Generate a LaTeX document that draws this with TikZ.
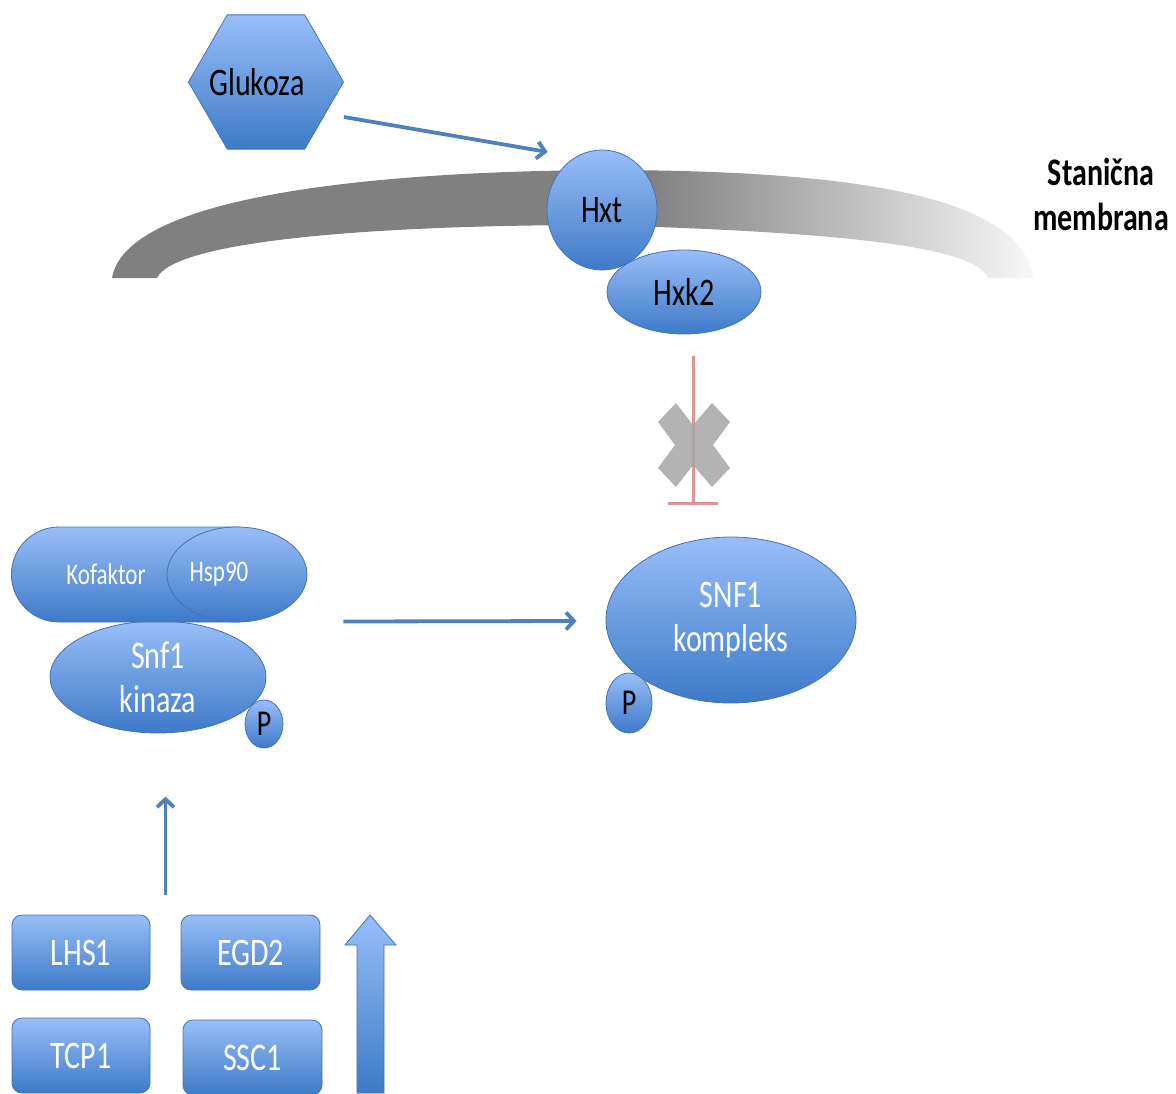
\documentclass[tikz,border=0pt]{standalone}
\usepackage{fontspec}
\usepackage{graphicx}
\setmainfont{Carlito}
\usetikzlibrary{shapes.geometric, shapes.misc, arrows.meta, calc}
\definecolor{protlight}{RGB}{152,190,248}
\definecolor{protdark}{RGB}{62,122,200}
\definecolor{protline}{RGB}{68,114,182}
\definecolor{arrowblue}{RGB}{79,129,189}
\definecolor{inhibred}{RGB}{217,150,148}
\definecolor{crossgray}{RGB}{166,166,166}
\definecolor{membdark}{gray}{0.5}
\definecolor{membend}{gray}{0.97}
\pgfdeclarehorizontalshading{membrane}{100bp}{color(0bp)=(membdark); color(25bp)=(membdark); color(54bp)=(membdark); color(75bp)=(membend); color(100bp)=(membend)}
\newcommand{\tall}[1]{\scalebox{1}[1.3]{#1}}

\begin{document}
\begin{tikzpicture}[x=1pt, y=-1pt,
  prot/.style={ellipse, draw=protline, line width=0.8pt, top color=protlight, bottom color=protdark, inner sep=0pt, align=center, font=\fontsize{30}{44}\selectfont},
  gene/.style={rectangle, rounded corners=10pt, draw=protline, line width=0.8pt, top color=protlight, bottom color=protdark, minimum width=138pt, minimum height=75pt, text=white, font=\fontsize{30}{36}\selectfont},
  arr/.style={draw=arrowblue, line width=3.8pt, -{Straight Barb[length=8pt, width=17pt]}}
]
  \useasboundingbox (0,0) rectangle (1176,1093);

  \shade[shading=membrane] (112,278) .. controls (125,200) and (350,172) .. (600,170)
    .. controls (850,170) and (1022,195) .. (1033,278) -- (988,278)
    .. controls (975,245) and (830,232) .. (600,225)
    .. controls (380,225) and (175,240) .. (157,278) -- cycle;

  \node[regular polygon, regular polygon sides=6, minimum size=155pt, inner sep=0pt, draw=protline, line width=0.8pt, top color=protlight, bottom color=protdark, font=\fontsize{30}{36}\selectfont] (glukoza) at (266,82) {\makebox[0pt]{\tall{Glukoza}\hspace*{18pt}}};
  \node[prot, minimum width=110pt, minimum height=120pt] (hxt) at (602,210) {\tall{Hxt}};
  \node[prot, minimum width=154pt, minimum height=84pt] (hxk) at (684,292) {\tall{Hxk2}};
  \node[font=\bfseries\fontsize{30}{45}\selectfont, align=center] (membrana) at (1101,194) {\tall{Stanična}\\\tall{membrana}};

  \node[prot, minimum width=250pt, minimum height=166pt, text=white] (snf) at (731,620) {\tall{SNF1}\\\tall{kompleks}};
  \node[prot, minimum width=46pt, minimum height=60pt, font=\fontsize{28}{34}\selectfont] (psnf) at (629,703) {\tall{P}};

  \draw[inhibred, line width=3pt, -{Bar[width=50pt]}] ($(hxk.south)+(9,22)$) -- ($(snf.north)+(-38,-32)$);
  \fill[crossgray, opacity=0.85] (658,422) -- (676,403) -- (693,425) -- (712,403) -- (730,422) -- (713,445)
    -- (730,468) -- (712,487) -- (693,465) -- (676,487) -- (658,468) -- (675,445) -- cycle;

  \node[prot, minimum width=216pt, minimum height=112pt, text=white] (kinaza) at (158,677) {\tall{Snf1}\\\tall{kinaza}};
  \node[prot, minimum width=38pt, minimum height=48pt, font=\fontsize{28}{34}\selectfont] (pkin) at (264,724) {\tall{P}};
  \node[rounded rectangle, rounded rectangle right arc=none, draw=protline, line width=0.8pt, top color=protlight, bottom color=protdark, minimum width=228pt, minimum height=95pt, inner sep=0pt, text=white, font=\fontsize{23}{28}\selectfont] (kofaktor) at (126,574.5) {\tall{Kofaktor}\hspace*{40pt}};
  \node[prot, minimum width=140pt, minimum height=95pt, text=white, font=\fontsize{23}{28}\selectfont] (hsp) at (237,574.5) {\tall{Hsp90}\hspace*{36pt}};

  \node[gene] (lhs) at (81,952.5) {\tall{LHS1}};
  \node[gene, minimum width=139pt] (egd) at (250.5,952.5) {\tall{EGD2}};
  \node[gene] (tcp) at (81,1055.5) {\tall{TCP1}};
  \node[gene, minimum width=139pt] (ssc) at (252.5,1057.5) {\tall{SSC1}};

  \shade[top color=protlight, bottom color=protdark, draw=protline, line width=0.8pt] (370,915) -- (396,945) -- (384,945) -- (384,1093)
    -- (357,1093) -- (357,945) -- (345,945) -- cycle;

  \draw[arr] ($(glukoza.east)+(0,35)$) -- ($(hxt.west)+(1,-58)$);
  \draw[arr] ($(hsp.east)+(36,47)$) -- ($(snf.west)+(-29,1)$);
  \draw[arr] ($(lhs.north east)!.5!(egd.north west)+(0,-20)$) -- ++(0,-98);
\end{tikzpicture}
\end{document}
